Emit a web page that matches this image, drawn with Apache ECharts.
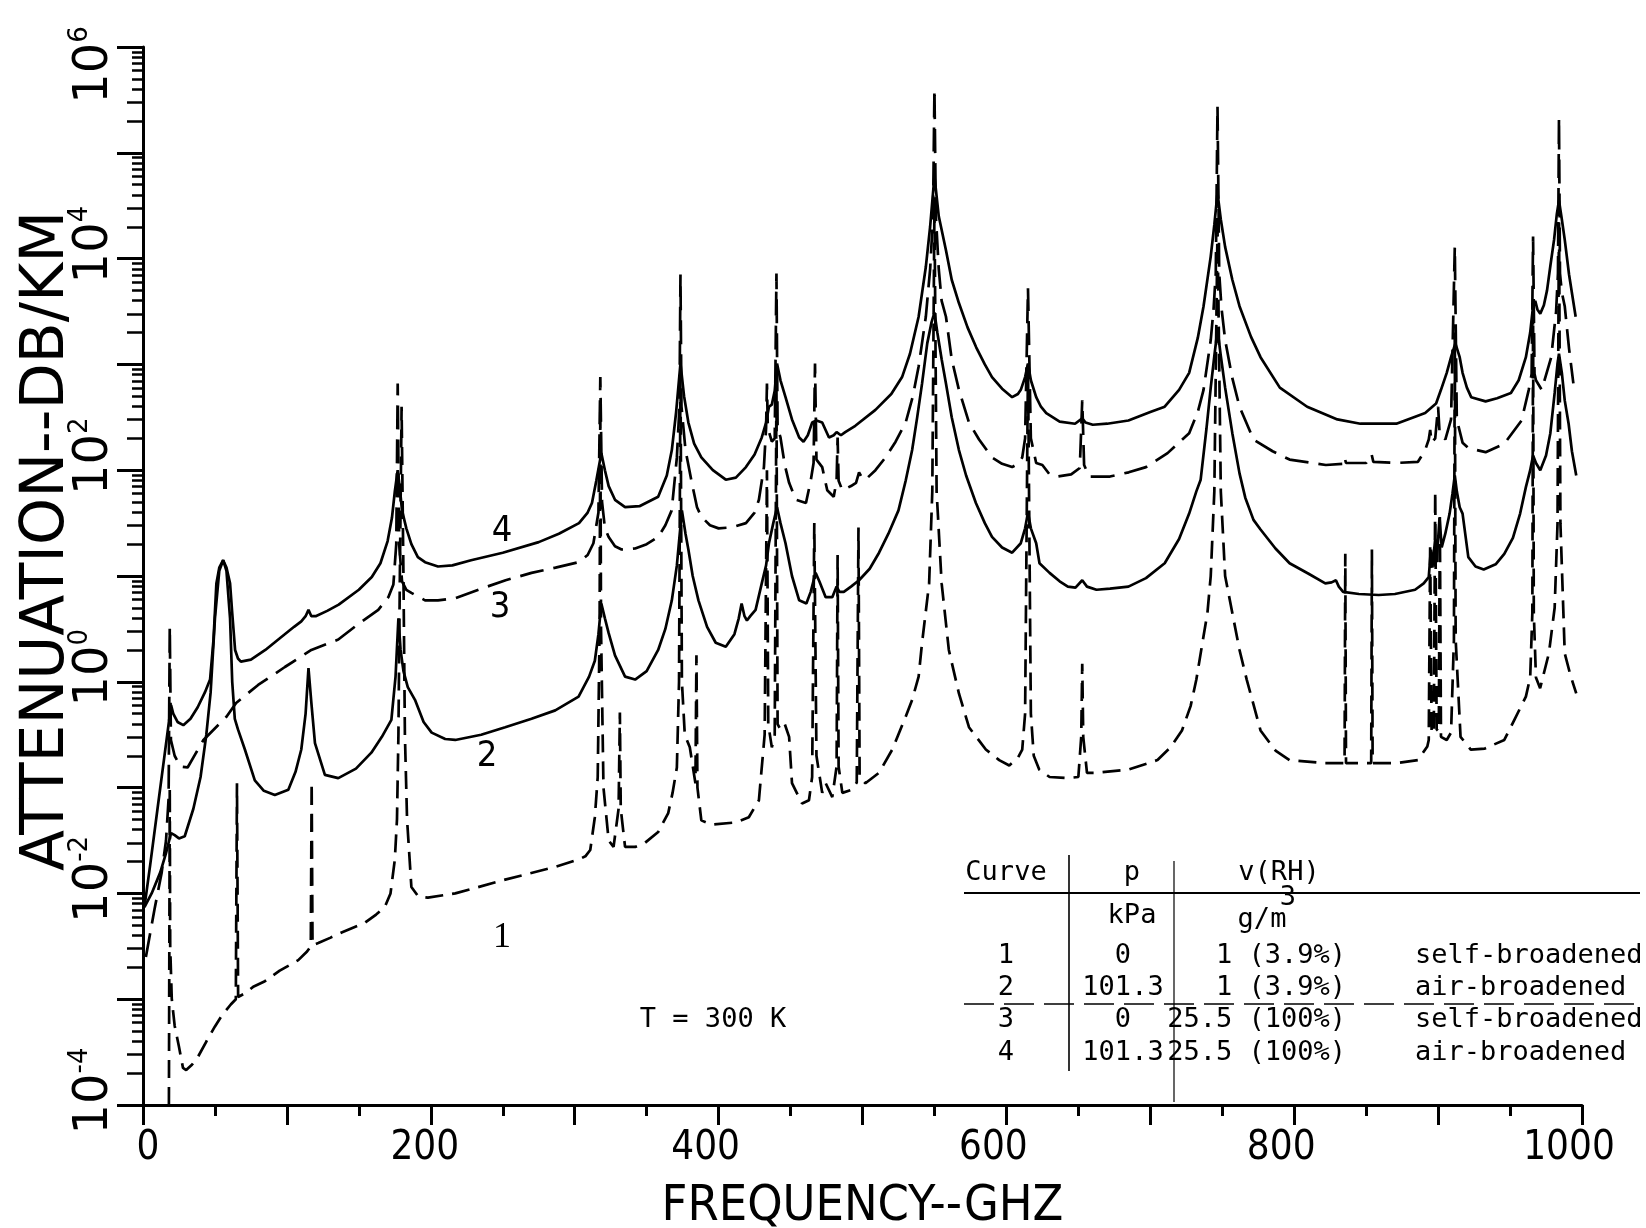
<!DOCTYPE html>
<html>
<head>
<meta charset="utf-8">
<script src="https://cdn.jsdelivr.net/npm/echarts@6.0.0/dist/echarts.min.js"></script>
<style>
html,body{margin:0;padding:0;background:#fff}
#chart{width:1646px;height:1228px}
</style>
</head>
<body>
<div id="chart"></div>
<script>
// Water-vapour attenuation (dB/km) versus frequency (GHz), T = 300 K.
// Each curve is a list of [frequency GHz, attenuation dB/km].

// Curve 1: p = 0 kPa, 1 g/m3, self-broadened (dashed)
const curve1 = [
  [18.0,1.00e-4],[18.4,1.00e-2],[18.6,0.100],[18.9,3.16e-3],[20,1.00e-3],[22,5.62e-4],[25,3.55e-4],
  [27.8,2.24e-4],[30,2.14e-4],[34,2.40e-4],[38,2.82e-4],[44,3.98e-4],[49.9,5.50e-4],[55,7.08e-4],
  [61,8.91e-4],[64.5,1.00e-3],[65.3,0.110],[66.1,1.05e-3],[70,1.12e-3],[77,1.32e-3],[84.7,1.48e-3],
  [95,1.86e-3],[107.9,2.34e-3],[114,2.82e-3],[116.6,3.16e-3],[117.2,0.112],[117.8,3.24e-3],
  [121.8,3.39e-3],[130,3.80e-3],[138,4.27e-3],[154,5.25e-3],[162,6.31e-3],[168,7.41e-3],[172,1.00e-2],
  [175,2.09e-2],[176.5,5.01e-2],[177.5,0.316],[178.5,10.0],[179.7,398],[181,10.0],[182,0.316],
  [183.5,5.01e-2],[186.5,1.15e-2],[191.4,9.33e-3],[198,9.12e-3],[217,1.00e-2],[251.7,1.35e-2],
  [286.5,1.78e-2],[302.7,2.09e-2],[307.4,2.24e-2],[310.8,2.57e-2],[314,5.25e-2],[316,0.126],
  [317.3,3.16],[317.8,398],[318.3,3.16],[320,0.100],[323.6,3.16e-2],[327,2.75e-2],[330.5,6.31e-2],
  [331.4,0.513],[332,6.31e-2],[335,2.75e-2],[342,2.75e-2],[349,3.02e-2],[358,3.80e-2],[365,5.75e-2],
  [368,8.91e-2],[371,0.155],[372.5,1.00],[373.5,1000],[374.5,1.00],[376.5,0.316],[380,0.240],
  [383.9,0.110],[384.6,1.78],[385.3,0.100],[388,4.90e-2],[395,4.47e-2],[411.7,4.68e-2],[421,5.25e-2],
  [428,7.59e-2],[430,0.155],[432,0.316],[433.6,100],[434.5,0.398],[437,0.240],[439,0.316],[440.2,631],
  [441,0.398],[443,0.355],[446,0.398],[449,0.302],[451,0.110],[458,7.08e-2],[462.8,7.59e-2],
  [465,0.126],[466.5,31.6],[468,0.200],[472,8.91e-2],[474.4,0.110],[479,8.13e-2],[482,0.158],
  [482.7,15.8],[483.4,0.158],[486,8.91e-2],[492.7,9.55e-2],[496,0.112],[497.2,28.8],[498,0.126],
  [502,0.110],[511.5,0.138],[520.7,0.229],[530,0.468],[534.5,0.676],[539,1.12],[541.4,2.34],
  [546.3,8.51],[548.5,63.1],[550,31600],[551.5,63.1],[555,8.51],[560,2.00],[567,0.776],[574,0.372],
  [585.7,0.229],[595,0.182],[602,0.162],[608,0.191],[611,0.229],[613,0.501],[615,1000],[617,0.501],
  [619,0.200],[622.8,0.148],[630,0.126],[642.7,0.123],[650,0.126],[652,0.302],[652.7,1.48],
  [653.4,0.302],[656,0.138],[662.6,0.138],[684.8,0.148],[705,0.182],[714,0.240],[722,0.347],
  [728,0.589],[732,1.05],[736,2.24],[739.7,4.47],[742,10.0],[744.5,63.1],[746.7,20000],[749,63.1],
  [752,10.0],[757,4.47],[762,2.00],[767,1.05],[776.6,0.347],[787,0.224],[796.8,0.182],[821.6,0.170],
  [835,0.170],[835.5,16.2],[836,0.170],[846,0.170],[853.5,0.170],[854,17.8],[854.5,0.170],[871,0.170],
  [886,0.182],[892.5,0.245],[893.5,0.282],[894.5,20.0],[895.5,0.324],[897,0.355],[898,63.1],[899,0.355],
  [900.5,0.339],[901.2,39.8],[902,0.302],[906,0.282],[909,0.331],[911,2.51],[911.6,2000],[912.2,2.51],
  [915.6,0.302],[922.7,0.229],[932.5,0.234],[946,0.282],[953,0.437],[961,0.724],[964,1.10],
  [965.5,4.47],[966,3160],[966.5,4.47],[968,1.10],[970.9,0.871],[977,1.86],[981,5.01],[983,31.6],
  [984,31600],[985,31.6],[988,1.86],[992,1.15],[996,0.776]
];

// Curve 2: p = 101.3 kPa, 1 g/m3, air-broadened (solid)
const curve2 = [
  [1,7.41e-3],[6,1.00e-2],[12,1.58e-2],[16,2.40e-2],[19.5,3.72e-2],[22,3.55e-2],[25,3.31e-2],
  [29,3.47e-2],[35,6.31e-2],[40,0.126],[44,0.316],[47,0.794],[50,3.98],[53,11.2],[55.7,14.1],
  [58,11.2],[60.5,3.98],[62,1.00],[63.8,0.447],[66,0.355],[70.8,0.229],[77.7,0.117],[84,9.33e-2],
  [91.6,8.51e-2],[101,9.55e-2],[106,0.141],[110,0.229],[113,0.501],[115,1.35],[117,0.631],
  [119.5,0.263],[126.4,0.132],[135.7,0.123],[148,0.151],[158.7,0.214],[166,0.302],[172.6,0.437],
  [175.5,1.12],[177.5,3.98],[179,2.00],[181,1.26],[184,0.891],[189,0.676],[195,0.417],[200.6,0.331],
  [210,0.288],[217,0.282],[235,0.316],[251.7,0.372],[270,0.447],[286.5,0.537],[302.7,0.724],
  [310,1.12],[314,1.58],[316.5,2.82],[318.5,5.50],[321,3.98],[323.6,2.88],[328,1.78],[335,1.12],
  [342,1.05],[350,1.26],[358,2.00],[363,3.16],[367.5,5.89],[371,12.6],[374.5,41.7],[377,25.1],
  [379,17.8],[382,10.0],[386,5.89],[392,3.31],[398,2.34],[405,2.14],[411,2.82],[414,3.98],[416,5.50],
  [418,4.17],[419.7,3.80],[422,4.17],[425.7,4.79],[430,8.51],[433,12.6],[435,20.4],[438,31.6],
  [440.6,44.7],[443,31.6],[446.5,20.4],[451,10.0],[456,5.89],[461,5.50],[464,7.08],[467.4,10.7],
  [470,8.91],[474.4,6.31],[479,6.31],[482,7.94],[484,7.08],[487,7.08],[492,7.94],[497.6,9.12],
  [505,11.7],[511.5,16.6],[518,25.1],[525,41.7],[530,79.4],[534.5,155],[538,316],[541.4,661],
  [545,1580],[548,2510],[550,3090],[552,2000],[555,1120],[558,661],[562,316],[567,155],[572,89.1],
  [578.8,49.0],[585,31.6],[590,23.4],[597,18.6],[604,16.6],[610,20.4],[613,28.2],[615,39.8],[617,28.2],
  [620.7,20.4],[623,13.2],[630,10.7],[637,8.91],[642.7,7.94],[648,7.76],[652.7,9.12],[656,7.94],
  [662.6,7.41],[672,7.59],[684.8,7.94],[697,9.55],[710,13.2],[720,22.4],[727,38.9],[732,63.1],
  [735,81.3],[739,245],[742,603],[744.5,1200],[746.7,2140],[749,1200],[752,603],[757,224],[762,93.3],
  [766,55.0],[771.7,33.9],[776.6,27.5],[787,18.2],[796.8,13.2],[810,10.5],[821.6,8.51],[826,8.71],
  [829,9.12],[831,7.94],[834,7.08],[845,6.76],[858.7,6.61],[870,6.76],[884,7.41],[890,8.51],
  [893.5,9.77],[895,17.8],[896,12.0],[898,22.4],[899,13.5],[901,35.5],[902.5,18.6],[905,25.1],
  [908,38.9],[910,60.3],[911.6,89.1],[913,63.1],[915,44.7],[917,38.9],[921,15.1],[926,12.3],
  [931.7,11.5],[940,12.9],[946,16.2],[952,22.9],[957,38.9],[961,69.2],[964,100],[966,138],[968,117],
  [971,100],[975,138],[978,224],[981,537],[983,1020],[984,1260],[986,832],[988,457],[990.7,275],
  [993,151],[996,89.1]
];

// Curve 3: p = 0 kPa, 25.5 g/m3, self-broadened (dashed)
const curve3 = [
  [2,2.51e-3],[8,7.08e-3],[13,1.58e-2],[16,3.16e-2],[17.8,7.94e-2],[18.6,3.31],[19.4,0.282],
  [22,0.200],[26,0.158],[31,0.155],[42,0.282],[58,0.468],[64.7,0.631],[80,0.933],[98.6,1.38],
  [117,2.00],[135.7,2.51],[150,3.55],[163.5,4.79],[170.5,6.31],[174,8.32],[176,20.0],[177,661],
  [178,20.0],[180,8.91],[183,7.41],[186.5,6.92],[196,5.89],[205,5.89],[217,6.17],[235,7.59],
  [252,9.12],[270,10.7],[286.7,12.0],[302.7,13.5],[309,15.8],[313,20.4],[316.5,39.8],[317.8,759],
  [319,50.1],[321,28.2],[323.6,23.4],[328,19.1],[332.6,17.8],[342,18.2],[350,20.0],[358,23.4],
  [363,30.2],[367.4,41.7],[371,132],[372.8,398],[373.5,7080],[374.2,398],[377,155],[381.4,75.9],
  [385,44.7],[388,36.3],[394,30.2],[400,28.2],[409,28.8],[419,31.6],[425,39.8],[428,52.5],
  [431.5,107],[433,251],[433.6,661],[434.2,251],[437,186],[439,200],[440.2,7240],[441,251],[443,204],
  [446,112],[449,75.9],[453.7,52.5],[460.7,49.0],[464,79.4],[466,117],[467,1020],[468,126],[472,107],
  [475.5,64.6],[480,56.2],[482,79.4],[482.7,204],[483.4,79.4],[486,64.6],[492,70.8],[495.5,75.9],
  [497.6,95.5],[500,83.2],[502,81.3],[509,100],[516,132],[523,186],[530,282],[535,501],[539,955],
  [544,2820],[547,7940],[549,25100],[550,398000],[551,25100],[553,7940],[555,3980],[558,2820],
  [562,1120],[567,575],[574,282],[581,195],[590,132],[597,115],[604,107],[608,115],[611,132],[613,200],
  [615,5250],[617,200],[620.7,117],[625,112],[630,91.2],[635,87.1],[645,91.2],[651,105],[652.7,457],
  [654,112],[657.6,87.1],[672,87.1],[685,95.5],[697,107],[712,145],[727,224],[733,355],[737,575],
  [742,1700],[744,3390],[745.5,7240],[746.7,275000],[747.9,7240],[749.5,3390],[752,1700],[757,741],
  [762,398],[771.7,195],[785,151],[796.8,126],[822,112],[834,115],[835,132],[836,117],[850,117],
  [853.8,141],[855,120],[871,117],[886,120],[891,155],[893.5,195],[894.5,240],[895.5,182],[898,200],
  [900,398],[901,229],[905,195],[909,302],[911.6,12900],[913,302],[917,182],[921,162],[933,148],
  [946,178],[958,295],[963,575],[965,813],[966,16200],[967,813],[968,708],[972,575],[978.6,1170],
  [982,3160],[983.3,7240],[984,214000],[984.7,7240],[986,4790],[988,3550],[991,1410],[994,661]
];

// Curve 4: p = 101.3 kPa, 25.5 g/m3, air-broadened (solid)
const curve4 = [
  [1,7.41e-3],[5,1.86e-2],[10,6.17e-2],[15,0.204],[18,0.417],[19.5,0.603],[21,0.501],[24,0.417],
  [28,0.389],[33,0.447],[38,0.575],[43,0.794],[46.6,1.05],[49,2.51],[51,8.51],[53,12.0],[55.7,14.1],
  [58,12.0],[60.5,8.51],[62,4.47],[64,2.00],[66,1.66],[68,1.55],[75,1.62],[85,2.00],[94,2.51],
  [105,3.31],[110,3.72],[113,4.17],[115,4.79],[117,4.17],[120,4.17],[128,4.68],[136,5.37],[150,7.41],
  [159,9.77],[165,13.2],[170,21.4],[173,35.5],[175,63.1],[177,100],[178.7,63.1],[180,41.7],[183,28.2],
  [186.5,20.0],[191,15.1],[196,13.5],[205,12.3],[215,12.6],[228,14.1],[250,16.6],[275,20.9],[289,25.1],
  [303,31.6],[309,39.8],[312,49.0],[315,79.4],[318.5,145],[321,100],[323.6,70.8],[328,52.5],[335,44.7],
  [345,45.7],[358,56.2],[364,89.1],[367.5,155],[370.5,355],[373.5,1020],[376,501],[379,282],[383,178],
  [388,132],[396,100],[405,81.3],[412,85.1],[419,107],[425,141],[430,204],[433,282],[435,398],[437,417],
  [439,562],[440.6,1020],[443,708],[446.5,490],[451,302],[456,204],[459,186],[462,214],[465,282],
  [468,295],[472,282],[476.7,204],[480,214],[482,229],[485,214],[488,229],[495,263],[509,372],[520,525],
  [527.5,759],[533,1260],[539,2820],[544,8320],[547,20000],[550,60300],[553,25100],[558,12000],
  [562,6310],[567,3800],[573,2240],[579,1450],[585,1000],[590,759],[597,589],[604,490],[608,525],
  [610,575],[613,759],[615,1020],[617,708],[620.7,490],[624,398],[627.7,347],[637,288],[647.7,275],
  [652.7,309],[655,282],[660,269],[670,275],[684.8,295],[700,355],[710,398],[720,575],[727,832],
  [733,1780],[737,3550],[742,10500],[744.5,20900],[746.7,41700],[749,23400],[752,12900],[757,6310],
  [762,3550],[770,1820],[776.6,1170],[790,603],[809,398],[830,302],[846,275],[871,275],[885,324],
  [891,347],[896,398],[898.6,427],[902,575],[906,832],[909,1170],[912,1580],[915,1170],[917,832],
  [920,603],[923,490],[933,447],[941,479],[950.6,537],[956,708],[961,1170],[964,2000],[966,3550],
  [967.5,3980],[969,3310],[971,3020],[973.5,3630],[975.7,5010],[978,8510],[980.6,15100],[982.5,26300],
  [984,35500],[986,23400],[988,15100],[991,7080],[995.6,2820]
];

// Axis ticks and labels
const xLabelValues = [0, 200, 400, 600, 800, 1000];
const yDecades = [1e-4,1e-3,1e-2,1e-1,1,1e1,1e2,1e3,1e4,1e5,1e6];
const yLabelValues = [1e-4, 1e-2, 1, 1e2, 1e4, 1e6];
const yMinorMid = [];   // 2 and 3 times each decade
const yMinorShort = []; // 4 to 9 times each decade
for (let k = -4; k < 6; k++) {
  for (const m of [2, 3]) yMinorMid.push(m * Math.pow(10, k));
  for (const m of [4, 5, 6, 7, 8, 9]) yMinorShort.push(m * Math.pow(10, k));
}

const tableFont = '27px "DejaVu Sans Mono"';
const narrow = '"Liberation Sans Narrow", "DejaVu Sans Condensed", sans-serif';
const labelFont = '36px ' + narrow;

const chart = echarts.init(document.getElementById('chart'), null, { renderer: 'canvas' });

function curveSeries(name, data, dash) {
  return {
    name, type: 'line', data, xAxisIndex: 0, yAxisIndex: 0,
    showSymbol: false, symbol: 'none', smooth: false, clip: true,
    lineStyle: { color: '#000', width: 2.7, type: dash || 'solid' },
    emphasis: { disabled: true }, silent: true, z: 3
  };
}

const yAxisCommon = {
  type: 'log', logBase: 10, min: 1e-4, max: 1e6, position: 'left',
  splitLine: { show: false }
};

function textEl(x, y, text, align, font) {
  return { type: 'text', x, y, silent: true,
    style: { text, font: font || tableFont, fill: '#000', textAlign: align || 'center', textVerticalAlign: 'middle' } };
}

chart.setOption({
  animation: false,
  backgroundColor: '#fff',
  grid: { left: 143, right: 64, top: 47, bottom: 123, containLabel: false, outerBoundsMode: 'none' },
  xAxis: {
    type: 'value', min: 0, max: 1000, interval: 100,
    name: 'FREQUENCY--GHZ', nameLocation: 'middle', nameGap: 77, nameMoveOverlap: false,
    nameTextStyle: { fontFamily: '"DejaVu Sans Condensed", "DejaVu Sans"', fontSize: 50, color: '#000' },
    axisLine: { lineStyle: { color: '#000', width: 3 } },
    axisTick: { length: 20, lineStyle: { color: '#000', width: 3 } },
    minorTick: { show: true, splitNumber: 2, length: 11, lineStyle: { color: '#000', width: 3 } },
    axisLabel: {
      customValues: xLabelValues, margin: 24, color: '#000', fontFamily: narrow, fontSize: 40,
      formatter: function (v) {
        if (v === 0) return '{z|0}';
        if (v === 200) return '{q|200}';
        return '{r|' + String(v) + '}';
      },
      rich: {
        z: { fontFamily: narrow, fontSize: 40, color: '#000', padding: [0, 0, 0, 10] },
        q: { fontFamily: narrow, fontSize: 40, color: '#000', padding: [0, 12, 0, 0] },
        r: { fontFamily: narrow, fontSize: 40, color: '#000', padding: [0, 26, 0, 0] }
      }
    },
    splitLine: { show: false }
  },
  yAxis: [
    Object.assign({}, yAxisCommon, {
      name: 'ATTENUATION--DB/KM', nameLocation: 'middle', nameRotate: 90, nameGap: 66, nameMoveOverlap: false,
      nameTextStyle: { fontFamily: 'DejaVu Sans', fontSize: 60, color: '#000', padding: [0, 0, 0, 70] },
      axisLine: { show: true, lineStyle: { color: '#000', width: 3 } },
      axisTick: { show: true, customValues: yDecades, length: 26, lineStyle: { color: '#000', width: 3 } },
      axisLabel: {
        customValues: yLabelValues, rotate: 90, margin: 20, color: '#000',
        formatter: function (v) {
          const p = Math.round(Math.log10(v));
          // the top label sits a little below its tick so it stays on the page
          return p === 6 ? '{b|10}{t|' + p + '}' : '{b|10}{e|' + p + '}';
        },
        rich: {
          b: { fontFamily: 'DejaVu Sans', fontSize: 48, color: '#000', padding: [0, 0, 0, 28] },
          e: { fontFamily: 'DejaVu Sans', fontSize: 26, color: '#000', padding: [0, 0, 30, 0] },
          t: { fontFamily: 'DejaVu Sans', fontSize: 26, color: '#000', padding: [0, 64, 30, 0] }
        }
      }
    }),
    Object.assign({}, yAxisCommon, {
      axisLine: { show: false },
      axisTick: { show: true, customValues: yMinorMid, length: 16, lineStyle: { color: '#000', width: 2.5 } },
      axisLabel: { show: false }
    }),
    Object.assign({}, yAxisCommon, {
      axisLine: { show: false },
      axisTick: { show: true, customValues: yMinorShort, length: 11, lineStyle: { color: '#000', width: 2.5 } },
      axisLabel: { show: false }
    })
  ],
  series: [
    curveSeries('1', curve1, [18, 9]),
    curveSeries('2', curve2),
    curveSeries('3', curve3, [24, 10]),
    curveSeries('4', curve4)
  ],
  graphic: [
    // curve numbers
    textEl(502, 532, '4', 'center', labelFont),
    textEl(500, 608, '3', 'center', labelFont),
    textEl(487, 757, '2', 'center', labelFont),
    textEl(502, 938, '1', 'center', '36px "Liberation Serif", serif'),
    // temperature note
    textEl(713, 1020, 'T = 300 K'),
    // conditions table
    { type: 'line', silent: true, shape: { x1: 964, y1: 893, x2: 1640, y2: 893 }, style: { stroke: '#000', lineWidth: 2 } },
    { type: 'line', silent: true, shape: { x1: 964, y1: 1004, x2: 1640, y2: 1004 }, style: { stroke: '#000', lineWidth: 1.6, lineDash: [30, 10] } },
    { type: 'line', silent: true, shape: { x1: 1069, y1: 855, x2: 1069, y2: 1071 }, style: { stroke: '#000', lineWidth: 1.6 } },
    { type: 'line', silent: true, shape: { x1: 1174, y1: 861, x2: 1174, y2: 1102 }, style: { stroke: '#000', lineWidth: 1.2 } },
    textEl(1006, 873, 'Curve'),
    textEl(1132, 873, 'p'),
    textEl(1279, 873, 'v(RH)'),
    textEl(1132, 916, 'kPa'),
    textEl(1262, 920, 'g/m'),
    textEl(1288, 898, '3'),
    textEl(1006, 956, '1'),
    textEl(1006, 988, '2'),
    textEl(1006, 1020, '3'),
    textEl(1006, 1053, '4'),
    textEl(1123, 956, '0'),
    textEl(1123, 988, '101.3'),
    textEl(1123, 1020, '0'),
    textEl(1123, 1053, '101.3'),
    textEl(1346, 956, '1 (3.9%)', 'right'),
    textEl(1346, 988, '1 (3.9%)', 'right'),
    textEl(1346, 1020, '25.5 (100%)', 'right'),
    textEl(1346, 1053, '25.5 (100%)', 'right'),
    textEl(1415, 956, 'self-broadened', 'left'),
    textEl(1415, 988, 'air-broadened', 'left'),
    textEl(1415, 1020, 'self-broadened', 'left'),
    textEl(1415, 1053, 'air-broadened', 'left')
  ]
});
</script>
</body>
</html>
